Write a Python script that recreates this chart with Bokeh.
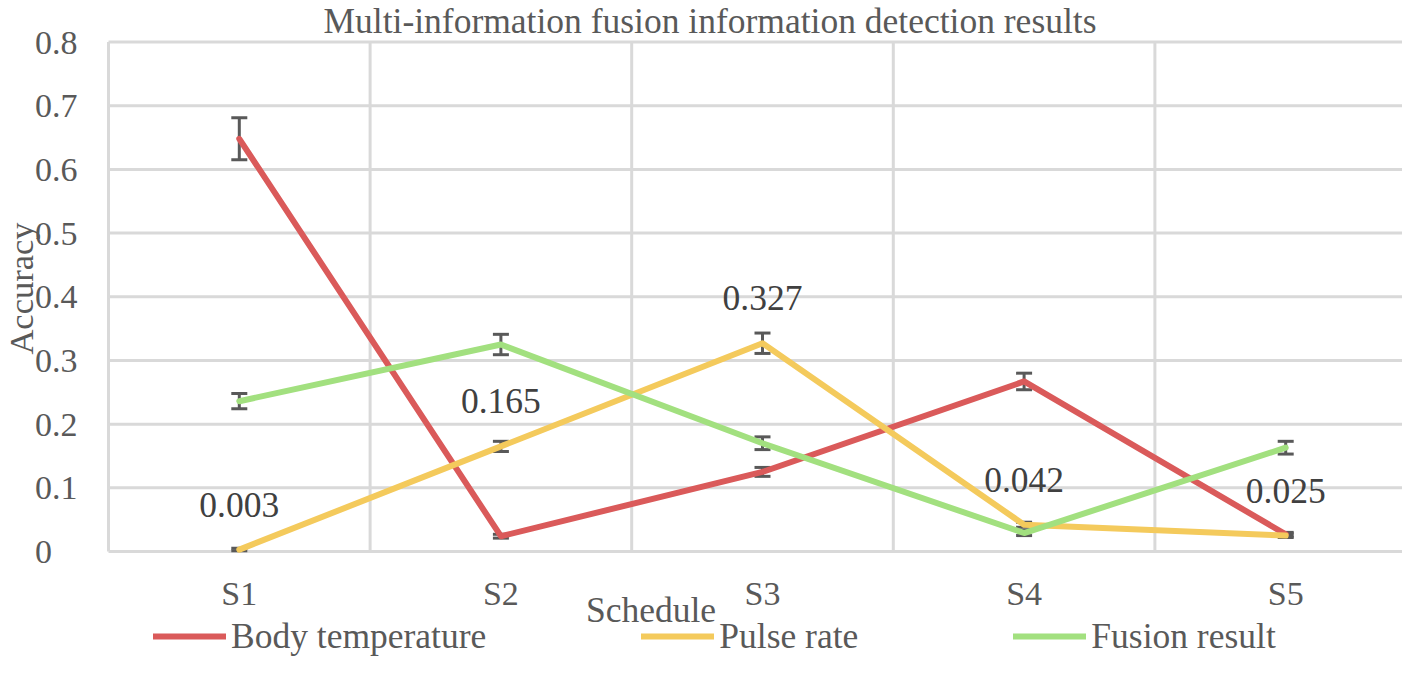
from bokeh.plotting import figure
from bokeh.models import (ColumnDataSource, Whisker, TeeHead, LabelSet, Label,
                          Legend, LegendItem, FixedTicker)
from bokeh.embed import file_html
from bokeh.resources import INLINE
import math

# ---------------- data ----------------
categories = ["S1", "S2", "S3", "S4", "S5"]
body_temperature = [0.648, 0.024, 0.125, 0.267, 0.027]
body_temperature_err = [0.033, 0.003, 0.007, 0.013, 0.003]
pulse_rate = [0.003, 0.165, 0.327, 0.042, 0.025]
pulse_rate_err = [0.002, 0.008, 0.016, 0.004, 0.003]
fusion_result = [0.236, 0.325, 0.170, 0.029, 0.163]
fusion_result_err = [0.012, 0.016, 0.010, 0.004, 0.010]
y_ticks = [0, 0.1, 0.2, 0.3, 0.4, 0.5, 0.6, 0.7, 0.8]
y_tick_labels = ["0", "0.1", "0.2", "0.3", "0.4", "0.5", "0.6", "0.7", "0.8"]

title_text = "Multi-information fusion information detection results"
x_title = "Schedule"
y_title = "Accuracy"

# ---------------- style / layout ----------------
FONT = "Liberation Serif"
TXT = "#595959"
GRID = "#D9D9D9"
RED = "#DA5A5A"
YEL = "#F4CA5C"
GRN = "#A2E07F"
ERR = "#595959"

W, H = 1402, 657
PX_LEFT, PX_CAT = 108, 261.6          # left edge of the plot area, width of one category
PX_ZERO, PX_TOP = 551, 41.5           # y pixel of value 0 and of the top value
Y_MAX = y_ticks[-1]
PX_UNIT_Y = (PX_ZERO - PX_TOP) / Y_MAX


def px2x(px):
    return 0.5 + (px - PX_LEFT) / PX_CAT


def py2y(py):
    return (PX_ZERO - py) / PX_UNIT_Y


xs = list(range(1, len(categories) + 1))
x_lo, x_hi = 0.5, len(categories) + 0.5

p = figure(width=W, height=H, output_backend="svg", toolbar_location=None,
           x_range=(px2x(0), px2x(W)), y_range=(py2y(H), py2y(0)),
           min_border=0, min_border_left=0, min_border_right=0,
           min_border_top=0, min_border_bottom=0)
p.outline_line_color = None
p.background_fill_color = "white"
p.border_fill_color = "white"
p.grid.visible = False

# gridlines limited to the plot area
vx = [x - 0.5 for x in xs] + [x_hi]
p.segment(x0=vx, y0=[0] * len(vx), x1=vx, y1=[Y_MAX] * len(vx),
          line_color=GRID, line_width=3, level="image")
p.segment(x0=[x_lo] * len(y_ticks), y0=y_ticks, x1=[x_hi] * len(y_ticks), y1=y_ticks,
          line_color=GRID, line_width=3, level="image")

# axes (fixed at the plot area edges)
p.xaxis.fixed_location = 0
p.yaxis.fixed_location = x_lo
p.xaxis.ticker = FixedTicker(ticks=xs)
p.xaxis.major_label_overrides = {x: c for x, c in zip(xs, categories)}
p.yaxis.ticker = FixedTicker(ticks=y_ticks)
# labels are left-aligned in the reference: pad short ones with no-break spaces
p.yaxis.major_label_overrides = {
    t: (l if "." in l else l + "\u00a0" * 3) for t, l in zip(y_ticks, y_tick_labels)}
for ax in (p.xaxis, p.yaxis):
    ax.axis_line_color = None
    ax.major_tick_line_color = None
    ax.minor_tick_line_color = None
    ax.major_tick_in = 0
    ax.major_tick_out = 0
    ax.major_label_text_font = FONT
    ax.major_label_text_font_size = "34px"
    ax.major_label_text_color = TXT
p.yaxis.major_label_standoff = 31
p.xaxis.major_label_standoff = 23

# error bars
series = [
    ("Body temperature", body_temperature, body_temperature_err, RED),
    ("Pulse rate", pulse_rate, pulse_rate_err, YEL),
    ("Fusion result", fusion_result, fusion_result_err, GRN),
]
for name, vals, errs, col in series:
    src = ColumnDataSource(dict(x=xs,
                                upper=[v + e for v, e in zip(vals, errs)],
                                lower=[v - e for v, e in zip(vals, errs)]))
    w = Whisker(source=src, base="x", upper="upper", lower="lower",
                line_color=ERR, line_width=3,
                upper_head=TeeHead(size=16, line_color=ERR, line_width=3),
                lower_head=TeeHead(size=16, line_color=ERR, line_width=3),
                level="underlay")
    p.add_layout(w)

# lines
items = []
for name, vals, errs, col in series:
    r = p.line(xs, vals, line_color=col, line_width=6, line_join="round",
               line_cap="round")
    items.append(LegendItem(label=name, renderers=[r]))

# data labels for pulse rate
lab_src = ColumnDataSource(dict(x=xs, y=pulse_rate,
                                t=["{:.3f}".format(v) for v in pulse_rate]))
p.add_layout(LabelSet(x="x", y="y", text="t", source=lab_src, y_offset=33,
                      text_align="center", text_baseline="alphabetic",
                      text_font=FONT, text_font_size="35.5px", text_color="#404040"))

# titles (anchored at the middle of the text box)
p.add_layout(Label(x=px2x(709.5), y=py2y(20.5), text=title_text,
                   text_align="center", text_baseline="middle",
                   text_font=FONT, text_font_size="35.5px", text_color=TXT))
p.add_layout(Label(x=px2x(650.5), y=py2y(609.5), text=x_title,
                   text_align="center", text_baseline="middle",
                   text_font=FONT, text_font_size="35.5px", text_color=TXT))
p.add_layout(Label(x=px2x(20), y=py2y(288), text=y_title, angle=math.pi / 2,
                   text_align="center", text_baseline="middle",
                   text_font=FONT, text_font_size="34.5px", text_color=TXT))

legend = Legend(items=items, orientation="horizontal", location=(153, 0),
                glyph_width=73, glyph_height=20, label_standoff=5, spacing=155,
                padding=0, margin=0, border_line_color=None,
                background_fill_alpha=0,
                label_text_font=FONT, label_text_font_size="35.5px",
                label_text_color=TXT)
p.add_layout(legend, "center")

open("out.html", "w").write(file_html(p, INLINE))
